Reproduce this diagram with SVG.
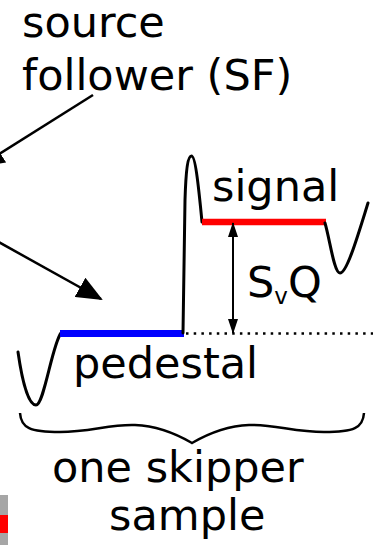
<svg xmlns="http://www.w3.org/2000/svg" width="373" height="545" viewBox="0 0 373 545">
<style>
text{font-family:"DejaVu Sans","Liberation Sans",sans-serif;font-size:43px;fill:#000}
.wave{fill:none;stroke:#000;stroke-width:3;stroke-linecap:round;stroke-linejoin:round}
.conn{fill:none;stroke:#000;stroke-width:2.5}
.dim{fill:none;stroke:#000;stroke-width:2}
</style>
<defs>
<marker id="bigArrow" markerUnits="userSpaceOnUse" markerWidth="26" markerHeight="22" viewBox="0 0 26 22" refX="24" refY="11" orient="auto">
<path d="M0,0 L26,11 L0,22 Z" fill="#000"/>
</marker>
<marker id="smallArrow" markerUnits="userSpaceOnUse" markerWidth="15" markerHeight="10" viewBox="0 0 15 10" refX="14" refY="5" orient="auto">
<path d="M0,0 L15,5 L0,10 Z" fill="#000"/>
</marker>
</defs>
<rect width="373" height="545" fill="#fff"/>

<g id="label-sf">
<text x="22" y="37">source</text>
<text x="22" y="90">follower (SF)</text>
</g>

<g id="waveform">
<path class="wave" d="M18,352 C22,380 28,405 36,405 C44,405 52,345 61,333"/>
<line x1="60" y1="333.5" x2="184" y2="333.5" stroke="#0000ff" stroke-width="7"/>
<path class="wave" d="M183,333 L185,200 C186,168 188,156 191.5,156 C195,156 198,180 202,222"/>
<line x1="202" y1="222" x2="326" y2="222" stroke="#ff0000" stroke-width="6.5"/>
<path class="wave" d="M325,223 C330,240 334,273 340,273 C347,273 358,235 368,203"/>
<line x1="186" y1="333.5" x2="373" y2="333.5" stroke="#000" stroke-width="2.5" stroke-dasharray="2.5 5.2"/>
</g>

<g id="label-signal">
<text x="212" y="201">signal</text>
</g>

<g id="label-svq">
<text x="247" y="297">S<tspan font-size="23" dy="7">v</tspan><tspan dy="-7">Q</tspan></text>
</g>

<g id="label-pedestal">
<text x="73" y="378">pedestal</text>
</g>

<g id="brace">
<path d="M20,413 C21,428 30,432 60,432 C90,432 110,424 135,425 C160,426 180,436 192,443 C204,436 224,426 249,425 C274,424 294,432 324,432 C354,432 363,428 364,413" fill="none" stroke="#000" stroke-width="2.5"/>
</g>

<g id="label-sample">
<text x="52" y="482">one skipper</text>
<text x="109" y="530">sample</text>
</g>

<g id="legend-swatch">
<rect x="0" y="495" width="8" height="20" fill="#a6a6a6"/>
<rect x="0" y="515" width="8" height="18" fill="#ff0000"/>
<rect x="0" y="533" width="8" height="12" fill="#a6a6a6"/>
</g>

<g id="connectors">
<line class="conn" x1="93" y1="95" x2="-20" y2="166" marker-end="url(#bigArrow)"/>
<line class="conn" x1="-5" y1="240" x2="101" y2="299" marker-end="url(#bigArrow)"/>
<line class="dim" x1="233" y1="236" x2="233" y2="321"/>
<line class="dim" x1="233" y1="236" x2="233" y2="223" marker-end="url(#smallArrow)"/>
<line class="dim" x1="233" y1="321" x2="233" y2="333" marker-end="url(#smallArrow)"/>
</g>
</svg>
